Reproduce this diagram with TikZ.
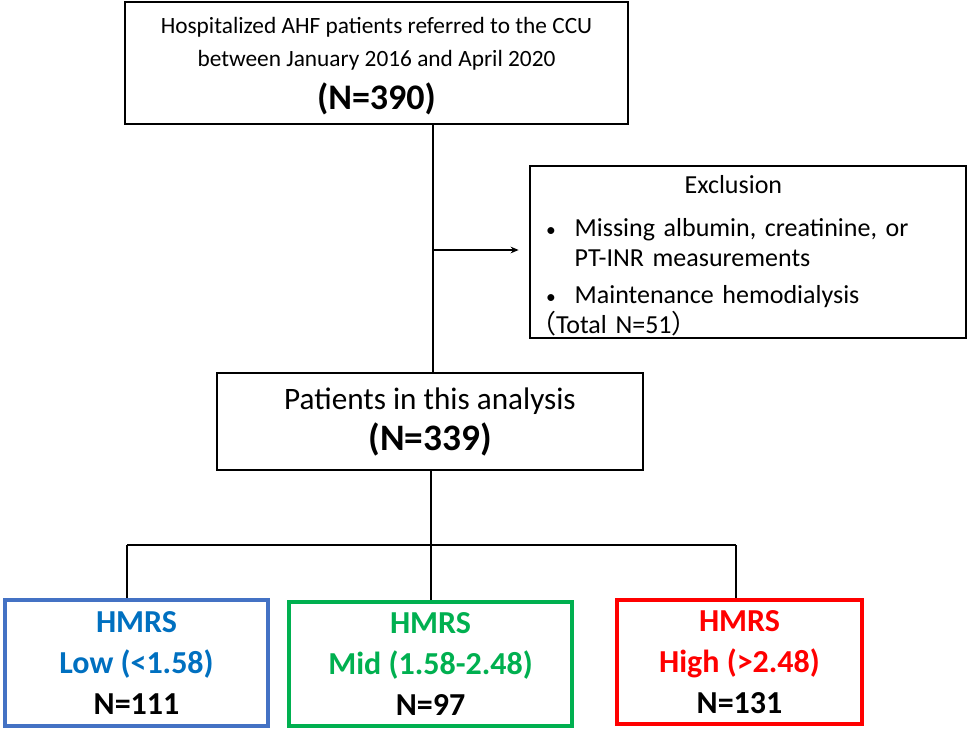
\documentclass[tikz,border=0pt]{standalone}
\usepackage{fontspec}
\usepackage{graphicx}
\setmainfont{Carlito}
\newfontfamily\cjk{Noto Sans CJK JP}
\usetikzlibrary{arrows.meta,positioning}
\definecolor{lowtext}{HTML}{0070C0}
\definecolor{lowframe}{HTML}{4472C4}
\definecolor{midgreen}{HTML}{00B050}
\definecolor{highred}{HTML}{FF0000}
\newcommand{\dotitem}{\hspace*{12pt}\makebox[21.5pt][l]{\scalebox{0.75}{\textbullet}}}
\tikzset{
    box/.style={
    rectangle,draw=black,line width=1.1pt,fill=white,inner sep=0pt
    },
    group/.style={
    rectangle,line width=3pt,fill=white,align=center,inner sep=0pt,
    font=\fontsize{24}{31}\selectfont\bfseries
    },
    link/.style={
    draw=black,line width=0.9pt
    },
}

\begin{document}
\begin{tikzpicture}[x=0.75pt,y=-0.75pt]
   \useasboundingbox (0,0) rectangle (968,732);

   % enrolment and exclusion
   \node[box,align=center,minimum width=377pt,minimum height=91.5pt,
         font=\fontsize{17.5}{24.75}\selectfont] (all) at (376.5,63)
        {\rule{0pt}{17pt}Hospitalized AHF patients referred to the CCU\\
         between January 2016 and April 2020\\[8pt]
         {\fontsize{27}{30}\selectfont\bfseries (N=390)}};
   \node[box,align=left,text width=327pt,minimum height=129pt,
         font=\fontsize{19.5}{22.5}\selectfont] (excl) at (748,252)
        {\rule{0pt}{19pt}\hspace*{116pt}Exclusion\\[9.75pt]
         \dotitem Missing albumin, creatinine, or\\
         \hspace*{33.5pt}PT-INR measurements\\[5.25pt]
         \dotitem Maintenance hemodialysis\\
         {\cjk （}Total N=51{\cjk ）}};
   \node[box,align=center,minimum width=319.5pt,minimum height=72.75pt,
         font=\fontsize{23.4}{30.75}\selectfont] (study) at (430,421.5)
        {Patients in this analysis\\
         {\fontsize{28}{30}\selectfont\bfseries (N=339)}};

   % HMRS groups
   \node[group,draw=lowframe,text=lowtext,minimum width=197pt,minimum height=94.5pt] (low) at (136.5,663)
        {HMRS\\Low (<1.58)\\\textcolor{black}{N=111}};
   \node[group,draw=midgreen,text=midgreen,minimum width=212pt,minimum height=93pt] (mid) at (430.5,664)
        {HMRS\\Mid (1.58-2.48)\\\textcolor{black}{N=97}};
   \node[group,draw=highred,text=highred,minimum width=184pt,minimum height=93pt] (high) at (739.5,662)
        {HMRS\\High (>2.48)\\\textcolor{black}{N=131}};

   \coordinate (split) at (433,250);
   \coordinate (fork) at (431,545);
   \coordinate (forkL) at (127,545);
   \coordinate (forkR) at (736,545);

   \path[link]
     (all.south -| split) -- (study.north -| split)
     (study.south -| fork) -- (fork)
     (forkL) -- (forkR)
     (forkL) -- (low.north -| forkL)
     (fork) -- (mid.north -| fork)
     (forkR) -- (high.north -| forkR);
   \draw[link,-{Stealth[length=6pt,width=5pt]},shorten >=8pt] (split) -- (excl.west |- split);
\end{tikzpicture}
\end{document}
